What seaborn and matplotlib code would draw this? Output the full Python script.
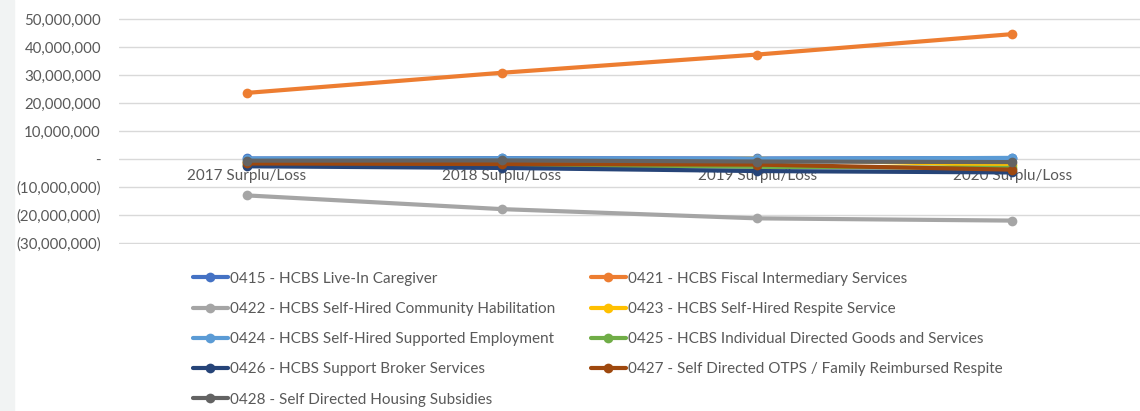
import numpy as np
import pandas as pd
import seaborn as sns
import matplotlib.pyplot as plt
from matplotlib.ticker import FuncFormatter
from matplotlib.patches import Rectangle

# category labels on the x axis
years = ["2017 Surplu/Loss", "2018 Surplu/Loss", "2019 Surplu/Loss", "2020 Surplu/Loss"]

# series names, in the order Excel draws them
series_names = [
    "0415 - HCBS Live-In Caregiver",
    "0421 - HCBS Fiscal Intermediary Services",
    "0422 - HCBS Self-Hired Community Habilitation",
    "0423 - HCBS Self-Hired Respite Service",
    "0424 - HCBS Self-Hired Supported Employment",
    "0425 - HCBS Individual Directed Goods and Services",
    "0426 - HCBS Support Broker Services",
    "0427 - Self Directed OTPS / Family Reimbursed Respite",
    "0428 - Self Directed Housing Subsidies",
]

# values (dollars)
v0415 = [200000, 300000, 200000, 300000]
v0421 = [23600000, 30800000, 37300000, 44600000]
v0422 = [-13000000, -17900000, -21200000, -22000000]
v0423 = [-1200000, -1000000, 100000, -2300000]
v0424 = [100000, 200000, 0, 400000]
v0425 = [-2000000, -2200000, -2800000, -3200000]
v0426 = [-2600000, -3200000, -4300000, -4800000]
v0427 = [-1600000, -1800000, -2000000, -3800000]
v0428 = [-600000, -500000, -900000, -1100000]

all_values = [v0415, v0421, v0422, v0423, v0424, v0425, v0426, v0427, v0428]

colors = ["#4472C4", "#ED7D31", "#A5A5A5", "#FFC000", "#5B9BD5",
          "#70AD47", "#264478", "#9E480E", "#636363"]

rows = []
for name, vals in zip(series_names, all_values):
    for yr, v in zip(years, vals):
        rows.append({"year": yr, "series": name, "value": v})
df = pd.DataFrame(rows)

sns.set_style("white")
plt.rcParams["font.family"] = ["Lato", "DejaVu Sans"]
text_color = "#595959"

fig = plt.figure(figsize=(11.4, 4.11), dpi=100)
fig.patches.append(Rectangle((0, 0), 14 / 1140, 1, transform=fig.transFigure,
                             color="#f1f3f3", zorder=0))
# axes spans a hair past the -30M / 50M gridlines so they are not clipped
ax = fig.add_axes([119 / 1140, 1 - 244 / 411, 1 - 119 / 1140, (244 - 18) / 411])

sns.lineplot(data=df, x="year", y="value", hue="series", hue_order=series_names,
             palette=colors, marker="o", markersize=7, markeredgewidth=0,
             linewidth=3, sort=False, legend="brief", ax=ax)

ax.set_ylim(-30000000 - 10000000 / 28, 50000000 + 10000000 / 28)
ax.set_yticks(np.arange(-30000000, 50000001, 10000000))
ax.set_xlim(-0.5, 3.5)


def money(v, pos):
    if abs(v) < 1:
        return "-"
    if v < 0:
        return "({:,.0f})".format(-v)
    return "{:,.0f}".format(v)


ax.yaxis.set_major_formatter(FuncFormatter(money))
ax.grid(axis="y", color="#d9d9d9", linewidth=1)
ax.grid(axis="x", visible=False)
for s in ["top", "right", "left"]:
    ax.spines[s].set_visible(False)
ax.spines["bottom"].set_position(("data", 0))
ax.spines["bottom"].set_visible(False)
ax.tick_params(axis="y", length=0, pad=13, labelsize=10.8, labelcolor=text_color)
ax.tick_params(axis="x", length=0, pad=7, labelsize=11, labelcolor=text_color)
ax.set_xlabel("")
ax.set_ylabel("")

handles, labels = ax.get_legend_handles_labels()
ax.get_legend().remove()
order = [0, 2, 4, 6, 8, 1, 3, 5, 7]
fig.legend([handles[i] for i in order], [labels[i] for i in order],
           ncol=2, loc="upper left", bbox_to_anchor=(179 / 1140, 1 - 258 / 411),
           frameon=False, fontsize=11, labelcolor=text_color,
           handlelength=2.3, handletextpad=0.15, columnspacing=2.3,
           labelspacing=1.06)

fig.savefig("out.png", dpi=100)
